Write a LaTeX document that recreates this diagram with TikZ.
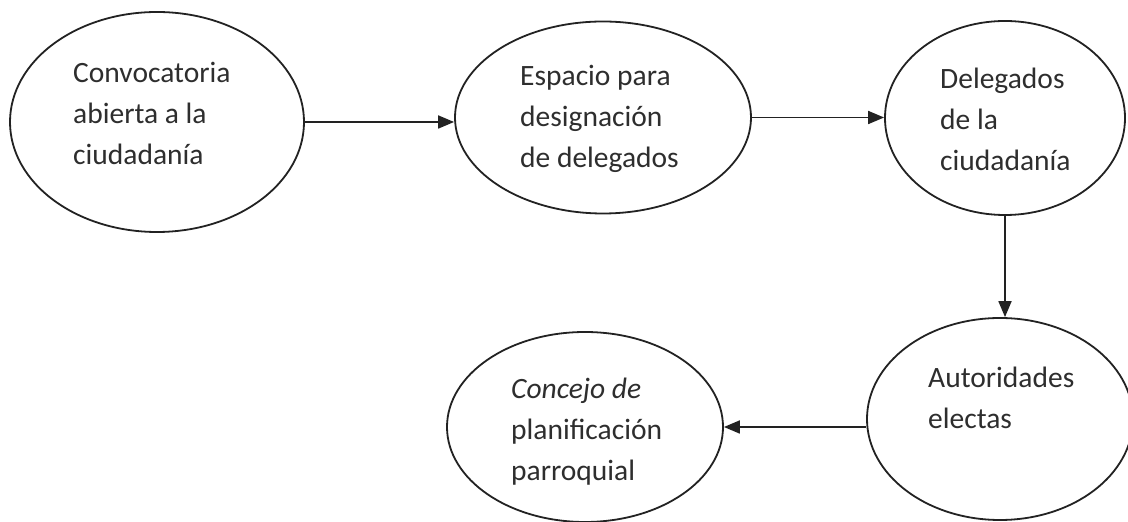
\documentclass[tikz,border=0pt]{standalone}
\usepackage{fontspec}
\setmainfont{Carlito}
\usetikzlibrary{shapes.geometric,arrows.meta}
\definecolor{inkline}{HTML}{222222}
\definecolor{inktext}{HTML}{2E2E2E}
\tikzset{
  oval/.style={draw=inkline, line width=1.8pt, ellipse, inner sep=0pt},
  lbl/.style={anchor=north west, inner sep=0pt, align=left, text=inktext,
              font=\fontsize{29.5}{41}\selectfont},
  arr/.style={draw=inkline, line width=1.8pt, -{Triangle[length=16pt,width=13pt]}}
}
\begin{document}
\begin{tikzpicture}[x=1pt,y=1pt]
\useasboundingbox (0,0) rectangle (1128,522);
\fill[white] (0,0) rectangle (1128,522);
% ellipses
\node[oval, minimum width=294pt, minimum height=220pt] (e1) at (157,400) {};
\node[oval, minimum width=296pt, minimum height=192pt] (e2) at (603,404.5) {};
\node[oval, minimum width=240pt, minimum height=194pt] (e3) at (1005,404) {};
\node[oval, minimum width=266pt, minimum height=202pt] (e4) at (1000,103) {};
\node[oval, minimum width=276pt, minimum height=190pt] (e5) at (585,95) {};
% labels
\node[lbl] (t1) at (73,468.7) {\strut Convocatoria\\abierta a la\\ciudadanía};
\node[lbl] (t2) at (520,465.7) {\strut Espacio para\\designación\\de delegados};
\node[lbl] (t3) at (940,462.7) {\strut Delegados\\de la\\ciudadanía};
\node[lbl] (t4) at (928,163.7) {\strut Autoridades\\electas};
\node[lbl] (t5) at (511,152.7) {\strut\itshape Concejo de\\planificación\\parroquial};
% connectors
\draw[arr] (e1.east) -- (e1.east -| e2.west);
\draw[arr] (e2.east) -- (e2.east -| e3.west);
\draw[arr] (e3.south) -- (e3.south |- e4.north);
\draw[arr] (e5.east -| e4.west) -- (e5.east);
\end{tikzpicture}
\end{document}
